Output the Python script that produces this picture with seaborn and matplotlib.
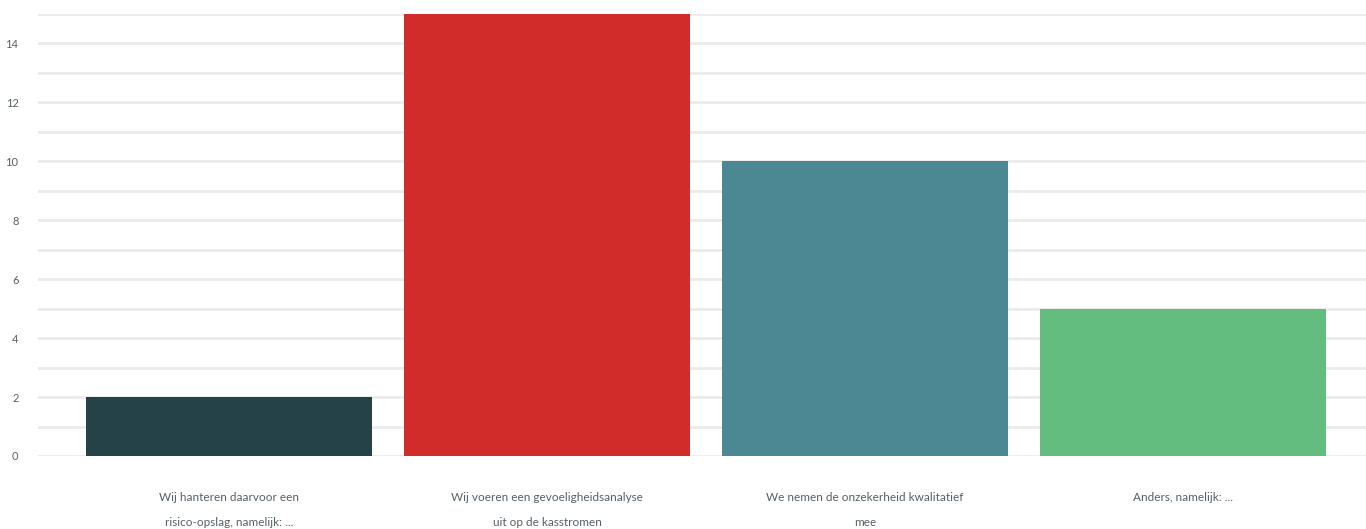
import matplotlib
matplotlib.use("Agg")
import matplotlib.pyplot as plt
import seaborn as sns
import pandas as pd

categories = [
    "Wij hanteren daarvoor een\nrisico-opslag, namelijk: ...",
    "Wij voeren een gevoeligheidsanalyse\nuit op de kasstromen",
    "We nemen de onzekerheid kwalitatief\nmee",
    "Anders, namelijk: ...",
]
values = [2, 15, 10, 5]
colors = ["#264249", "#D12B2A", "#4C8794", "#63BD7F"]

sns.set_theme(style="white")
plt.rcParams["font.family"] = ["Lato", "DejaVu Sans"]

df = pd.DataFrame({"category": categories, "value": values})

fig = plt.figure(figsize=(13.66, 5.29), dpi=100)
ax = fig.add_axes([0.0278, 0.138, 0.9722, 0.8355])

sns.barplot(data=df, x="category", y="value", hue="category",
            palette=colors, width=0.9, saturation=1, legend=False,
            linewidth=0, ax=ax)

ax.set_xlim(-0.6006, 3.575)
ax.set_ylim(0, 15)
ax.set_yticks(range(0, 15, 2))
ax.set_yticks(range(1, 16, 2), minor=True)
ax.grid(True, which="both", axis="y", color="#ebebeb", linewidth=2)
ax.set_axisbelow(True)
for s in ax.spines.values():
    s.set_visible(False)
ax.set_xlabel("")
ax.set_ylabel("")
ax.tick_params(axis="y", which="both", length=0, labelsize=8, colors="#555f66", pad=14)
ax.tick_params(axis="x", length=0, labelsize=8.5, colors="#555f66", pad=26)
for lbl in ax.get_xticklabels():
    lbl.set_linespacing(2.5)
    lbl.set_verticalalignment("top")

fig.savefig("out.png", dpi=100)
